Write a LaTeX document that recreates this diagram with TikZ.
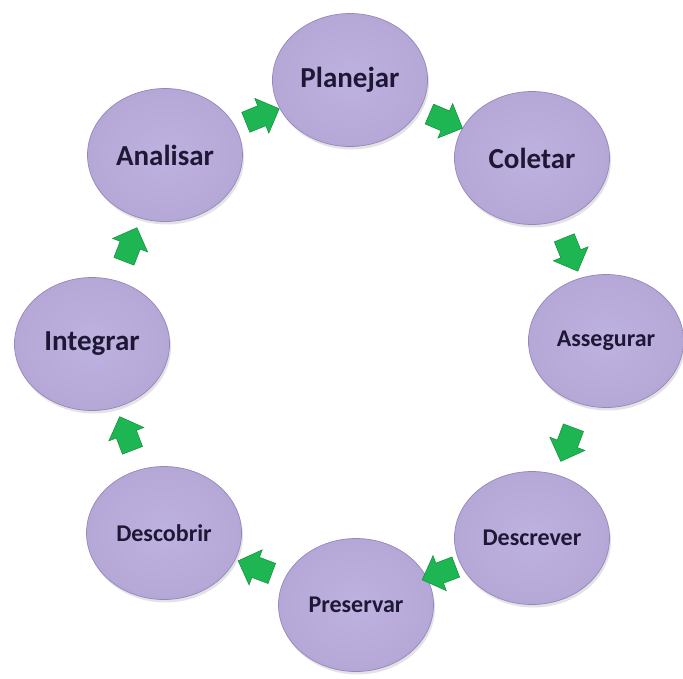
\documentclass[tikz,border=0pt]{standalone}
\usepackage{fontspec}
\setmainfont{Carlito}
\usetikzlibrary{shapes.geometric,shapes.arrows,shadows,calc}

\definecolor{stagefill}{RGB}{181,167,214}
\definecolor{stageinner}{RGB}{190,178,224}
\definecolor{stagerim}{RGB}{150,134,192}
\definecolor{stagetext}{RGB}{30,24,54}
\definecolor{flowgreen}{RGB}{30,182,82}
\definecolor{flowdark}{RGB}{18,140,58}

\begin{document}
\begin{tikzpicture}[x=1pt,y=-1pt,
  stage/.style={ellipse, minimum width=155pt, minimum height=133pt, inner sep=0pt,
    inner color=stageinner, outer color=stagefill, draw=stagerim, line width=0.7pt,
    drop shadow={opacity=0.22, shadow xshift=1.5pt, shadow yshift=-3pt},
    text=stagetext, font=\bfseries\fontsize{29}{32}\selectfont},
  smalltext/.style={font=\bfseries\fontsize{24}{28}\selectfont},
  flow/.style={single arrow, minimum height=36pt, inner xsep=0pt, inner ysep=10.5pt,
    single arrow head extend=8pt,
    fill=flowgreen, draw=flowdark, line width=0.5pt}]

\useasboundingbox (0,0) rectangle (683,678);
\fill[white] (0,0) rectangle (683,678);

% the eight stages of the cycle
\node[stage] (planejar) at (350,80) {Planejar};
\node[stage] (coletar) at (532,158) {Coletar};
\node[stage, smalltext] (assegurar) at (606,341) {Assegurar};
\node[stage, smalltext] (descrever) at (532,538) {Descrever};
\node[stage, smalltext] (preservar) at (356,605) {Preservar};
\node[stage, smalltext] (descobrir) at (164,533) {Descobrir};
\node[stage] (integrar) at (92,344) {Integrar};
\node[stage] (analisar) at (165,155) {Analisar};

% block arrows halfway between consecutive stages, pointing along the cycle
\foreach \a/\b in {analisar/planejar, planejar/coletar, coletar/assegurar,
                   assegurar/descrever, descrever/preservar, preservar/descobrir,
                   descobrir/integrar, integrar/analisar}{
  \path let \p1=($(\b)-(\a)$), \n1={atan2(\y1,\x1)} in
    node[flow, rotate=\n1] (arrow-\a) at ($(\a)!0.5!(\b)$) {};
}
\end{tikzpicture}
\end{document}
